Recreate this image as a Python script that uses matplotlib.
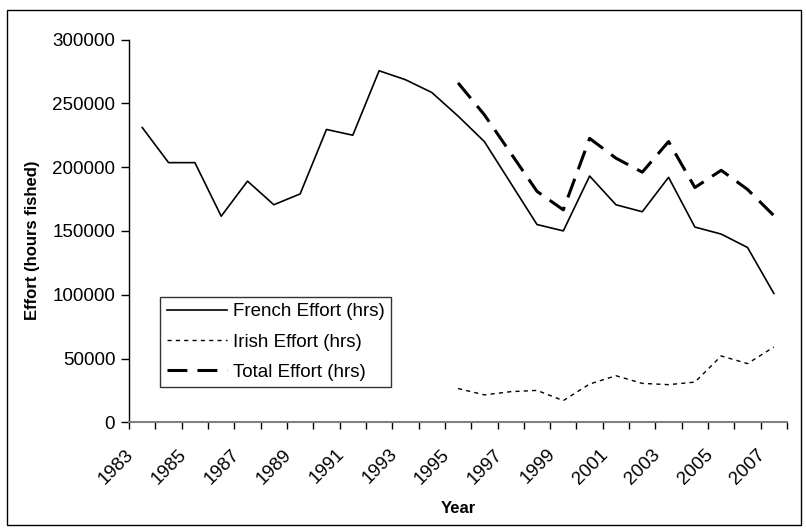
import matplotlib
matplotlib.use('Agg')
import matplotlib.pyplot as plt
import matplotlib.transforms as mtransforms
from matplotlib.patches import Rectangle

years = list(range(1983, 2008))
french_effort = [231000, 203500, 203500, 161500, 189000, 170500, 179000, 229500, 225000,
                 275500, 268500, 258500, 240000, 220000, 187500, 155000, 150000, 193000,
                 170500, 165000, 192000, 153000, 147500, 137000, 101000]
irish_years = list(range(1995, 2008))
irish_effort = [26500, 21500, 24000, 25000, 17000, 30000, 36500, 30500, 29500, 31500,
                52000, 46000, 59000]
total_effort = [266000, 241000, 211000, 181000, 166500, 222500, 207000, 196000, 220000,
                184000, 197500, 182500, 162000]
label_years = list(range(1983, 2008, 2))
y_ticks = [0, 50000, 100000, 150000, 200000, 250000, 300000]

plt.rcParams['font.family'] = ['Liberation Sans', 'DejaVu Sans']

W, H = 806, 530
fig = plt.figure(figsize=(W / 100, H / 100), dpi=100)
ax = fig.add_axes([129.1 / W, 1 - 422.3 / H, (787 - 129.1) / W, (422.3 - 39.5) / H])

ax.plot(years, french_effort, color='black', lw=1.2, label='French Effort (hrs)')
ax.plot(irish_years, irish_effort, color='black', lw=1.0, linestyle=(0, (3, 3)),
        label='Irish Effort (hrs)')
ax.plot(irish_years, total_effort, color='black', lw=2.2, linestyle=(0, (6.5, 3.3)),
        label='Total Effort (hrs)')

ax.set_xlim(years[0] - 0.5, years[-1] + 0.5)
ax.set_ylim(0, 300000)
ax.set_yticks(y_ticks)
ax.set_yticklabels([str(v) for v in y_ticks], fontsize=13.5)

# category boundaries carry the tick marks, labels sit at category centres
ax.set_xticks([y - 0.5 for y in years] + [years[-1] + 0.5])
ax.set_xticklabels([])
ax.set_xticks(label_years, minor=True)
ax.set_xticklabels([str(y) for y in label_years], minor=True, rotation=45, ha='right',
                   fontsize=13.5)
ax.tick_params(axis='x', which='major', length=5, width=1, color='black', direction='out')
ax.tick_params(axis='x', which='minor', length=0, pad=17)
ax.tick_params(axis='y', length=5.5, width=1, pad=4.5)
offset = mtransforms.ScaledTranslation(-5 / 100, 0, fig.dpi_scale_trans)
for lbl in ax.get_xticklabels(minor=True):
    lbl.set_transform(lbl.get_transform() + offset)

ax.spines['top'].set_visible(False)
ax.spines['right'].set_visible(False)
ax.spines['left'].set_linewidth(1)
ax.spines['bottom'].set_color('#808080')
ax.spines['bottom'].set_linewidth(1.5)

ax.set_xlabel('Year', fontsize=12, fontweight='bold')
ax.set_ylabel('Effort (hours fished)', fontsize=12, fontweight='bold')
ax.xaxis.set_label_coords(0.5, -0.205)
ax.yaxis.set_label_coords(-0.135, 0.475)

leg = ax.legend(loc='upper left', bbox_to_anchor=(160 / W, 1 - 296.7 / H),
                bbox_transform=fig.transFigure, borderaxespad=0, fontsize=13.5,
                frameon=True, fancybox=False, handlelength=3.2, handletextpad=0.33,
                borderpad=0.35, labelspacing=0.7)
leg.get_frame().set_edgecolor('black')
leg.get_frame().set_linewidth(1)

fig.patches.append(Rectangle((6.5 / W, 1 - 525 / H), (801 - 6.5) / W, (525 - 10) / H,
                             transform=fig.transFigure, fill=False, edgecolor='black', lw=1))

plt.savefig('out.png', dpi=100)
